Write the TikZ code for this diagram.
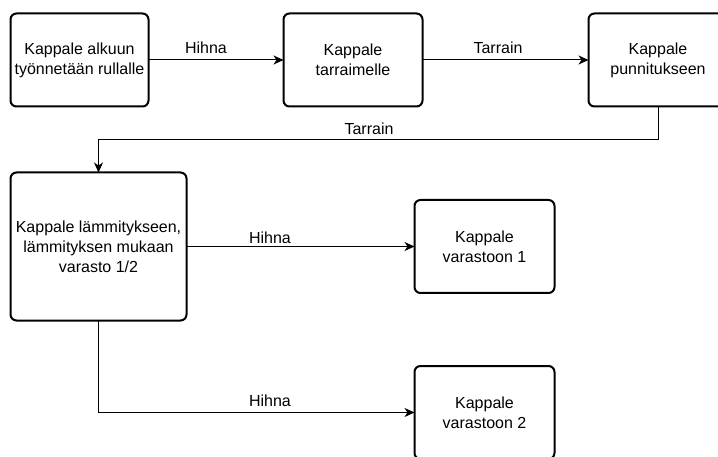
\documentclass[tikz,border=0pt]{standalone}
\usepackage{fontspec}
\setmainfont{Liberation Sans}
\usetikzlibrary{arrows.meta}
\begin{document}
\begin{tikzpicture}[x=1pt,y=-1pt,
  box/.style={draw, line width=2pt, rounded corners=6pt, align=center,
    font=\fontsize{16}{20}\selectfont, inner sep=0pt, outer sep=0pt},
  conn/.style={line width=1pt, -{Stealth[length=10pt,width=9pt,inset=3pt]}},
  plain/.style={line width=1pt},
  lbl/.style={font=\fontsize{16}{20}\selectfont, inner sep=0pt}]
\useasboundingbox (0,0) rectangle (718,457);
\clip (0,0) rectangle (718,457);

\node[box, minimum width=138pt, minimum height=93pt] (b1) at (79.5,60) {Kappale alkuun\\työnnetään rullalle};
\node[box, minimum width=139pt, minimum height=93pt] (b2) at (353,60) {Kappale\\tarraimelle};
\node[box, minimum width=139pt, minimum height=93pt] (b3) at (658,60) {Kappale\\punnitukseen};
\node[box, minimum width=176pt, minimum height=148pt] (b4) at (98.5,246.5) {Kappale lämmitykseen,\\lämmityksen mukaan\\varasto 1/2};
\node[box, minimum width=140pt, minimum height=93pt] (b5) at (484.5,246.5) {Kappale\\varastoon 1};
\node[box, minimum width=140pt, minimum height=93pt] (b6) at (484.5,412.5) {Kappale\\varastoon 2};

\coordinate (c1) at (658,140);
\draw[conn] (b1.east) -- (b2.west);
\draw[conn] (b2.east) -- (b3.west);
\draw[conn] (b3.south) -- (c1) -| (b4.north);
\draw[conn] (b4.east) -- (b5.west);
\draw[conn] (b4.south) |- (b6.west);

\node[lbl] (l1) at (206,48) {Hihna};
\node[lbl] (l2) at (498,48) {Tarrain};
\node[lbl] (l3) at (369,129) {Tarrain};
\node[lbl] (l4) at (270,238) {Hihna};
\node[lbl] (l5) at (270,401) {Hihna};
\end{tikzpicture}
\end{document}
